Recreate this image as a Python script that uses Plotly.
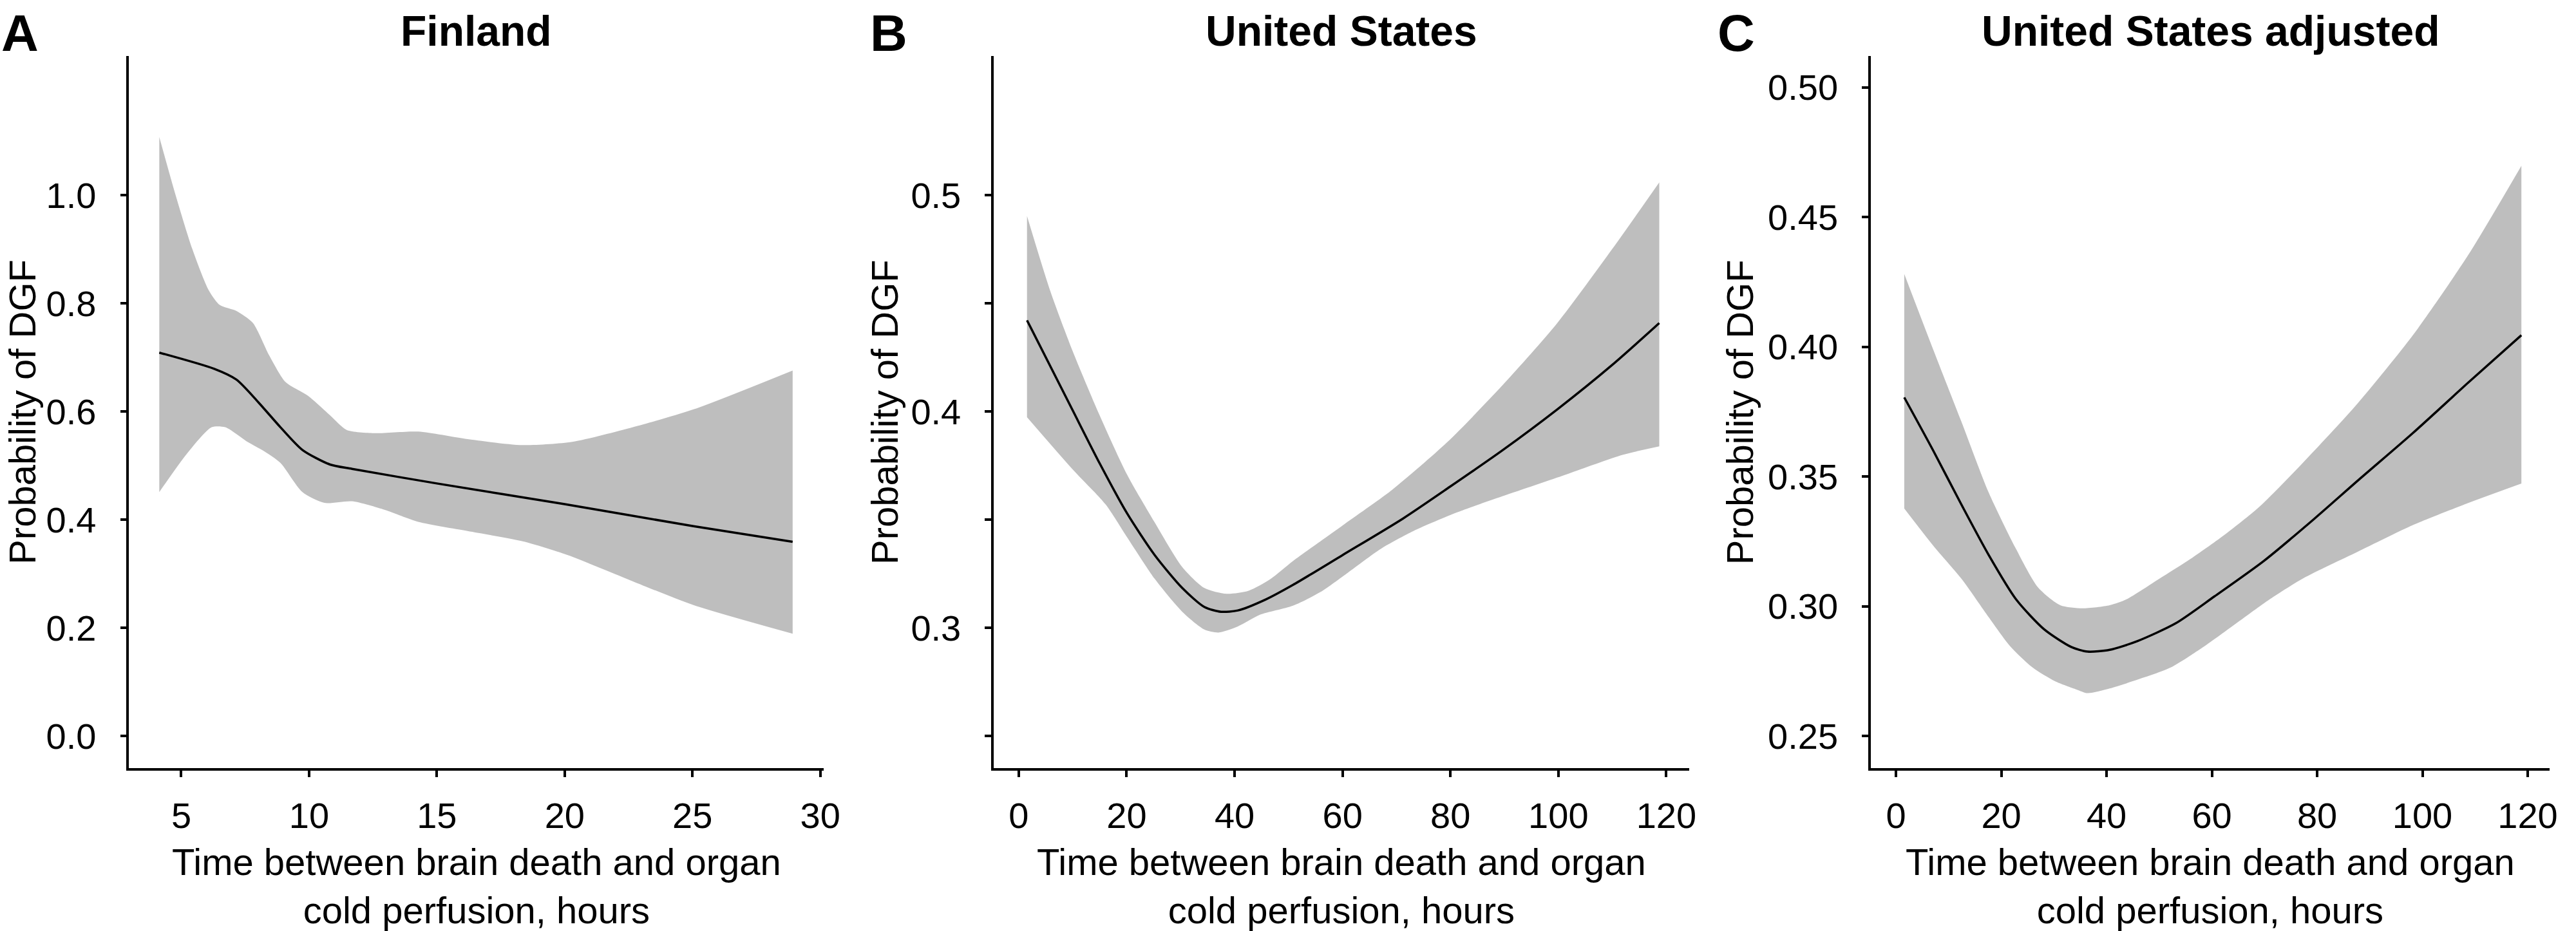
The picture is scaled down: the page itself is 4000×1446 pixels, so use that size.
import plotly.graph_objects as go

# ---------------- data ----------------
# Panel A: Finland
fin_line_x = [4.14, 6.29, 7.16, 8.02, 8.88, 9.74, 10.82, 11.68, 15.0, 19.96, 25.04, 28.92]
fin_line_y = [0.709, 0.679, 0.659, 0.617, 0.571, 0.529, 0.502, 0.494, 0.467, 0.429, 0.388, 0.359]
fin_up_x = [4.14, 4.78, 5.43, 6.08, 6.51, 7.16, 7.80, 8.45, 9.09, 9.96, 10.82, 11.47, 12.54, 14.27, 16.2, 18.36, 20.3, 22.67, 25.04, 28.92]
fin_up_y = [1.108, 1.000, 0.901, 0.824, 0.797, 0.786, 0.764, 0.703, 0.654, 0.629, 0.593, 0.566, 0.560, 0.563, 0.549, 0.538, 0.544, 0.571, 0.604, 0.676]
fin_lo_x = [4.14, 5.22, 6.19, 6.72, 7.59, 8.23, 8.88, 9.74, 10.6, 11.68, 12.97, 14.27, 16.2, 18.36, 20.09, 22.67, 25.04, 28.92]
fin_lo_y = [0.451, 0.522, 0.571, 0.571, 0.544, 0.527, 0.505, 0.451, 0.431, 0.434, 0.418, 0.396, 0.379, 0.360, 0.335, 0.286, 0.242, 0.189]

# Panel B: United States
us_line_x = [1.53, 9.9, 15.0, 20.1, 25.2, 30.3, 34.4, 37.5, 40.6, 45.7, 50.8, 60.0, 71.2, 79.9, 89.6, 99.8, 110.0, 118.7]
us_line_y = [0.4422, 0.4010, 0.3760, 0.3528, 0.3336, 0.3184, 0.3096, 0.3074, 0.3080, 0.3130, 0.3198, 0.3336, 0.3505, 0.3652, 0.3820, 0.4010, 0.4216, 0.4409]
us_up_x = [1.53, 5.8, 9.9, 15.0, 20.1, 25.2, 30.3, 34.4, 38.5, 42.6, 46.7, 50.8, 60.0, 69.2, 79.4, 89.6, 99.8, 110.0, 118.7]
us_up_y = [0.4904, 0.4560, 0.4285, 0.3982, 0.3707, 0.3487, 0.3281, 0.3184, 0.3157, 0.3171, 0.3226, 0.3308, 0.3473, 0.3638, 0.3858, 0.4120, 0.4409, 0.4752, 0.5060]
us_lo_x = [1.53, 9.9, 16.1, 20.1, 25.2, 30.3, 34.4, 37.0, 40.6, 44.7, 50.8, 55.9, 61.0, 67.1, 73.2, 81.4, 91.6, 101.8, 112.0, 118.7]
us_lo_y = [0.3974, 0.3735, 0.3570, 0.3418, 0.3226, 0.3074, 0.2992, 0.2978, 0.3006, 0.3060, 0.3102, 0.3165, 0.3255, 0.3365, 0.3448, 0.3535, 0.3625, 0.3712, 0.3800, 0.3839]

# Panel C: United States adjusted
adj_line_x = [1.57, 7.1, 12.4, 17.6, 22.8, 28.1, 33.3, 36.4, 40.6, 45.9, 53.2, 60.5, 69.9, 79.4, 87.7, 98.2, 108.7, 118.8]
adj_line_y = [0.3805, 0.3599, 0.3393, 0.3198, 0.3027, 0.2912, 0.2843, 0.2825, 0.2832, 0.2866, 0.2935, 0.3038, 0.3175, 0.3336, 0.3484, 0.3668, 0.3862, 0.4045]
adj_up_x = [1.57, 7.1, 12.4, 17.6, 22.8, 27.0, 31.2, 35.4, 40.6, 43.8, 50.1, 56.3, 62.6, 68.9, 77.3, 87.7, 98.2, 108.7, 118.8]
adj_up_y = [0.4281, 0.3988, 0.3713, 0.3439, 0.3221, 0.3072, 0.3004, 0.2992, 0.3004, 0.3027, 0.3107, 0.3187, 0.3278, 0.3381, 0.3553, 0.3782, 0.4045, 0.4354, 0.4698]
adj_lo_x = [1.57, 7.1, 12.4, 17.6, 21.8, 26.0, 30.2, 34.3, 36.4, 40.6, 45.9, 52.1, 58.4, 64.7, 71.0, 77.3, 87.7, 98.2, 108.7, 118.8]
adj_lo_y = [0.3377, 0.3233, 0.3107, 0.2958, 0.2843, 0.2763, 0.2711, 0.2679, 0.2665, 0.2683, 0.2717, 0.2763, 0.2843, 0.2935, 0.3027, 0.3107, 0.3210, 0.3313, 0.3398, 0.3473]

titles = ["Finland", "United States", "United States adjusted"]
letters = ["A", "B", "C"]
x_title = "Time between brain death and organ<br>cold perfusion, hours"
y_title = "Probability of DGF"

a_xticks = [5, 10, 15, 20, 25, 30]
us_xticks = [0, 20, 40, 60, 80, 100, 120]
a_yticks = [0.0, 0.2, 0.4, 0.6, 0.8, 1.0]
a_ylabels = ["0.0", "0.2", "0.4", "0.6", "0.8", "1.0"]
b_yticks = [0.25, 0.30, 0.35, 0.40, 0.45, 0.50]
b_ylabels = ["", "0.3", "", "0.4", "", "0.5"]
c_yticks = [0.25, 0.30, 0.35, 0.40, 0.45, 0.50]
c_ylabels = ["0.25", "0.30", "0.35", "0.40", "0.45", "0.50"]

# ---------------- layout geometry ----------------
W, H = 4000, 1446
FONT = "Liberation Sans"
BAND = "#BEBEBE"
xdom = [[0.050425, 0.32175], [0.388325, 0.66], [0.731, 0.99625]]
ydom = [0.17497, 0.94004]
xranges = [[2.957, 30.125], [-4.62, 124.23], [-4.78, 124.17]]
yranges = [[-0.0595, 1.258], [0.2351, 0.5645], [0.2376, 0.5122]]
xticks = [a_xticks, us_xticks, us_xticks]
yticks = [(a_yticks, a_ylabels), (b_yticks, b_ylabels), (c_yticks, c_ylabels)]
ytitle_x = [0.0088, 0.3458, 0.68]
letter_x = [0.0, 0.3395, 0.6705]

panels = [
    (fin_line_x, fin_line_y, fin_up_x, fin_up_y, fin_lo_x, fin_lo_y),
    (us_line_x, us_line_y, us_up_x, us_up_y, us_lo_x, us_lo_y),
    (adj_line_x, adj_line_y, adj_up_x, adj_up_y, adj_lo_x, adj_lo_y),
]

fig = go.Figure()
for i, (lx, ly, ux, uy, bx, by) in enumerate(panels):
    xa = "x" if i == 0 else f"x{i+1}"
    ya = "y" if i == 0 else f"y{i+1}"
    fig.add_trace(go.Scatter(x=bx, y=by, mode="lines", line=dict(width=0, color=BAND, shape="spline", smoothing=0.7),
                             xaxis=xa, yaxis=ya, showlegend=False, hoverinfo="skip"))
    fig.add_trace(go.Scatter(x=ux, y=uy, mode="lines", line=dict(width=0, color=BAND, shape="spline", smoothing=0.7),
                             fill="tonexty", fillcolor=BAND,
                             xaxis=xa, yaxis=ya, showlegend=False, hoverinfo="skip"))
    fig.add_trace(go.Scatter(x=lx, y=ly, mode="lines", line=dict(width=3.5, color="black", shape="spline", smoothing=0.7),
                             xaxis=xa, yaxis=ya, showlegend=False))

axis_common = dict(showline=True, linewidth=3.5, linecolor="black", showgrid=False, zeroline=False,
                   ticks="outside", ticklen=10, tickwidth=3.5, tickcolor="black",
                   tickfont=dict(family=FONT, size=56, color="black"))

layout = dict(width=W, height=H, margin=dict(l=0, r=0, t=0, b=0),
              paper_bgcolor="white", plot_bgcolor="white", showlegend=False,
              font=dict(family=FONT, color="black"))
annotations = []
for i in range(3):
    xk = "xaxis" if i == 0 else f"xaxis{i+1}"
    yk = "yaxis" if i == 0 else f"yaxis{i+1}"
    ya = "y" if i == 0 else f"y{i+1}"
    xa = "x" if i == 0 else f"x{i+1}"
    layout[xk] = dict(domain=xdom[i], range=xranges[i], anchor=ya, tickmode="array", tickvals=xticks[i],
                      ticktext=[str(v) for v in xticks[i]], ticklabelstandoff=12, **axis_common)
    layout[yk] = dict(domain=ydom, range=yranges[i], anchor=xa, tickmode="array", tickvals=yticks[i][0],
                      ticktext=yticks[i][1], ticklabelstandoff=26, **axis_common)
    cx = (xdom[i][0] + xdom[i][1]) / 2
    annotations.append(dict(text=f"<b>{titles[i]}</b>", x=cx, y=1 - 48 / H, xref="paper", yref="paper",
                            xanchor="center", yanchor="middle", showarrow=False,
                            font=dict(family=FONT, size=66, color="black")))
    annotations.append(dict(text=f"<b>{letters[i]}</b>", x=letter_x[i], y=1 - 52 / H, xref="paper", yref="paper",
                            xanchor="left", yanchor="middle", showarrow=False,
                            font=dict(family=FONT, size=80, color="black")))
    annotations.append(dict(text=x_title, x=cx, y=1 - 1376 / H, xref="paper", yref="paper",
                            xanchor="center", yanchor="middle", showarrow=False,
                            font=dict(family=FONT, size=58, color="black")))
    annotations.append(dict(text=y_title, x=ytitle_x[i], y=(ydom[0] + ydom[1]) / 2, xref="paper", yref="paper",
                            xanchor="center", yanchor="middle", textangle=-90, showarrow=False,
                            font=dict(family=FONT, size=58, color="black")))
layout["annotations"] = annotations
fig.update_layout(**layout)

fig.write_html("out.html", config={"displayModeBar": False},
               post_script="document.body.style.margin='0';document.body.style.overflow='hidden';")
